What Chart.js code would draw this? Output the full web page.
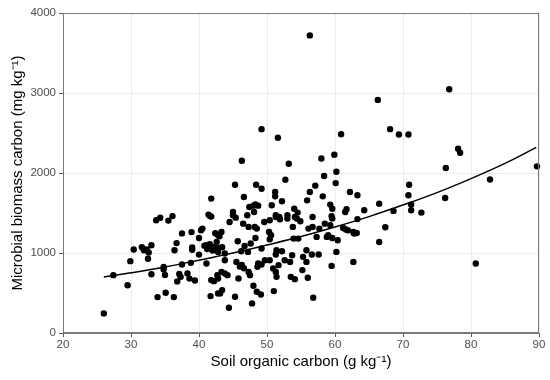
<!DOCTYPE html>
<html lang="en">
<head>
<meta charset="UTF-8">
<title>Microbial biomass carbon vs soil organic carbon</title>
<script src="https://cdn.jsdelivr.net/npm/chart.js"></script>
<style>
    html, body { margin: 0; padding: 0; background: #fff; }
</style>
</head>
<body>
<canvas id="grafico" width="550" height="380"></canvas>
<script>
    // soil organic carbon (g/kg) and microbial biomass carbon (mg/kg)
    const soc = [
        26.0, 27.4, 29.5, 29.9, 30.4, 31.6, 31.9, 32.3, 32.6, 32.5, 33.0, 33.0, 33.7, 34.3, 33.9, 34.8,
        34.8, 35.0, 35.1, 35.5, 36.1, 36.4, 36.3, 36.7, 36.8, 37.1, 37.3, 37.5, 37.5, 38.3, 38.6, 38.9,
        38.8, 39.0, 39.0, 39.4, 40.0, 40.0, 40.3, 40.5, 41.6, 41.8, 41.4, 41.8, 41.1, 41.8, 42.2, 41.7,
        42.8, 40.8, 41.2, 41.6, 42.0, 42.4, 42.6, 42.4, 42.8, 42.8, 42.8, 43.0, 43.3, 43.4, 43.8, 43.8,
        44.5, 45.4, 45.7, 46.5, 47.3, 46.7, 47.2, 46.2, 47.6, 48.2, 48.5, 48.3, 49.6, 50.4, 51.3, 50.3,
        50.6, 50.4, 49.2, 51.9, 53.0, 53.8, 54.4, 54.9, 53.9, 54.6, 56.1, 56.7, 57.3, 57.7, 58.5, 59.3,
        59.0, 59.6, 60.4, 56.7, 59.6, 45.5, 46.3, 46.6, 46.0, 47.3, 47.5, 45.8, 42.7, 43.3, 43.8, 44.2,
        42.8, 48.7, 49.2, 49.7, 48.6, 50.4, 51.4, 52.2, 51.3, 50.9, 51.3, 51.7, 51.4, 52.6, 53.4, 53.7,
        53.5, 54.1, 55.3, 55.8, 55.2, 56.0, 56.6, 57.6, 59.5, 56.8, 51.0, 48.0, 48.5, 49.1, 47.8, 45.3,
        44.4, 43.1, 43.4, 55.8, 58.8, 41.1, 41.5,
        46.3, 49.2, 51.6, 53.2, 58.0, 59.9, 60.9, 56.3, 66.3, 58.4, 60.2, 60.1, 52.7, 45.3, 48.4, 49.2,
        57.1, 56.3, 58.2, 51.2, 51.2, 46.6, 55.9, 52.2, 48.3, 48.0, 48.7, 47.4, 50.7, 54.0, 54.5, 59.3,
        59.6, 45.0, 45.0, 47.1, 48.1, 51.3, 51.8, 53.0, 54.1, 59.5,
        62.7, 60.2, 66.5, 62.2, 63.3, 64.3, 61.7, 61.5, 63.3, 63.2, 62.7, 61.6, 68.1, 69.4, 70.8, 78.1,
        78.4, 76.3, 76.2, 70.9, 70.8, 71.2, 71.2, 72.7, 66.5, 68.6, 76.8, 89.7, 82.8, 67.4, 80.7, 61.2,
        61.9, 62.8
    ];
    const mbc = [
        245, 723, 597, 898, 1043, 1072, 1035, 1043, 1006, 929, 1097, 734, 1410, 1440, 449, 827,
        795, 725, 503, 1405, 1461, 1035, 449, 1124, 645, 738, 702, 857, 1245, 744, 680, 1261,
        877, 1068, 1040, 657, 1188, 980, 1284, 1305, 1463, 1680, 1480, 1455, 869, 661, 648, 461,
        495, 1090, 1050, 1110, 1030, 1080, 1138, 1247, 1222, 1060, 1014, 1210, 1263, 1072, 994, 910,
        1388, 1442, 1147, 1367, 1326, 1088, 1014, 1022, 1118, 1326, 1305, 1188, 1388, 1409, 1450, 1263,
        1222, 1172, 1056, 1421, 1430, 1326, 1430, 1397, 1180, 1180, 1305, 1326, 1201, 1305, 1367, 1347,
        1222, 1188, 1160, 1450, 1430, 889, 850, 810, 830, 764, 723, 682, 723, 764, 744, 723,
        682, 869, 857, 910, 827, 910, 1035, 1022, 981, 806, 764, 848, 702, 910, 889, 972,
        702, 673, 952, 889, 786, 690, 981, 981, 839, 440, 524, 590, 515, 482, 370, 453,
        316, 495, 536, 1035, 1201, 1097, 1056,
        2154, 2548, 2440, 2116, 2182, 2228, 2485, 3720, 2914, 1962, 2016, 1874, 1917, 1854, 1854, 1804,
        1842, 1762, 1708, 1762, 1708, 1700, 1658, 1646, 1608, 1592, 1592, 1575, 1596, 1554, 1505, 1605,
        1554, 1513, 1471, 1471, 1513, 1471, 1450, 1471, 1450, 1459,
        889, 1014, 1138, 1762, 1721, 1534, 1548, 1513, 1424, 1250, 1263, 1293, 2548, 2482, 2482, 2303,
        2253, 2062, 1687, 1854, 1721, 1605, 1534, 1505, 1617, 1526, 3047, 2083, 1918, 1322, 869, 1313,
        1284, 1243
    ];

    // fitted curve, read at a few places along the line
    const curvaX = [26, 30, 35, 40, 45, 50, 55, 60, 65, 70, 75, 80, 85, 89.6];
    const curvaY = [700, 752, 825, 910, 1000, 1100, 1205, 1325, 1455, 1600, 1755, 1930, 2120, 2320];

    const xTicks = [20, 30, 40, 50, 60, 70, 80, 90];
    const yTicks = [0, 1000, 2000, 3000, 4000];

    const fonte = '"Liberation Sans", Arial, sans-serif';

    // moldura do painel (estilo theme_bw)
    const moldura = {
        id: 'moldura',
        afterDraw(chart) {
            const { ctx, chartArea: a } = chart;
            ctx.save();
            ctx.strokeStyle = '#7a7a7a';
            ctx.lineWidth = 1;
            ctx.strokeRect(a.left + 0.5, a.top + 0.5, a.right - a.left - 1, a.bottom - a.top - 1);
            ctx.restore();
        }
    };

    new Chart(document.getElementById('grafico'), {
        type: 'scatter',
        data: {
            datasets: [
                {
                    data: soc.map((x, i) => ({ x: x, y: mbc[i] })),
                    backgroundColor: '#000',
                    borderColor: '#000',
                    pointRadius: 3.2,
                    pointBorderWidth: 0,
                    clip: false,
                    order: 2
                },
                {
                    type: 'line',
                    data: curvaX.map((x, i) => ({ x: x, y: curvaY[i] })),
                    borderColor: '#000',
                    borderWidth: 1.5,
                    pointRadius: 0,
                    tension: 0.4,
                    fill: false,
                    order: 1
                }
            ]
        },
        options: {
            responsive: false,
            animation: false,
            layout: { padding: { top: 13, right: 11, left: 0, bottom: 0 } },
            plugins: { legend: { display: false }, tooltip: { enabled: false } },
            scales: {
                x: {
                    type: 'linear',
                    min: 20, max: 90,
                    afterBuildTicks: s => { s.ticks = xTicks.map(v => ({ value: v })); },
                    afterFit: s => { s.height = 47; },
                    ticks: { color: '#4d4d4d', font: { family: fonte, size: 11.5 }, padding: 1, callback: v => String(v) },
                    grid: { color: '#ebebeb', tickColor: '#555', tickLength: 4 },
                    border: { color: '#7a7a7a' },
                    title: {
                        display: true,
                        text: 'Soil organic carbon (g kg⁻¹)',
                        color: '#000',
                        font: { family: fonte, size: 15 },
                        padding: { top: 0, bottom: 9 }
                    }
                },
                y: {
                    type: 'linear',
                    min: 0, max: 4000,
                    afterBuildTicks: s => { s.ticks = yTicks.map(v => ({ value: v })); },
                    afterFit: s => { s.width = 63; },
                    ticks: { color: '#4d4d4d', font: { family: fonte, size: 11.5 }, padding: 3, callback: v => String(v) },
                    grid: { color: '#ebebeb', tickColor: '#555', tickLength: 4 },
                    border: { color: '#7a7a7a' },
                    title: {
                        display: true,
                        text: 'Microbial biomass carbon (mg kg⁻¹)',
                        color: '#000',
                        font: { family: fonte, size: 15 },
                        padding: { top: 9, bottom: 0 }
                    }
                }
            }
        },
        plugins: [moldura]
    });
</script>
</body>
</html>
